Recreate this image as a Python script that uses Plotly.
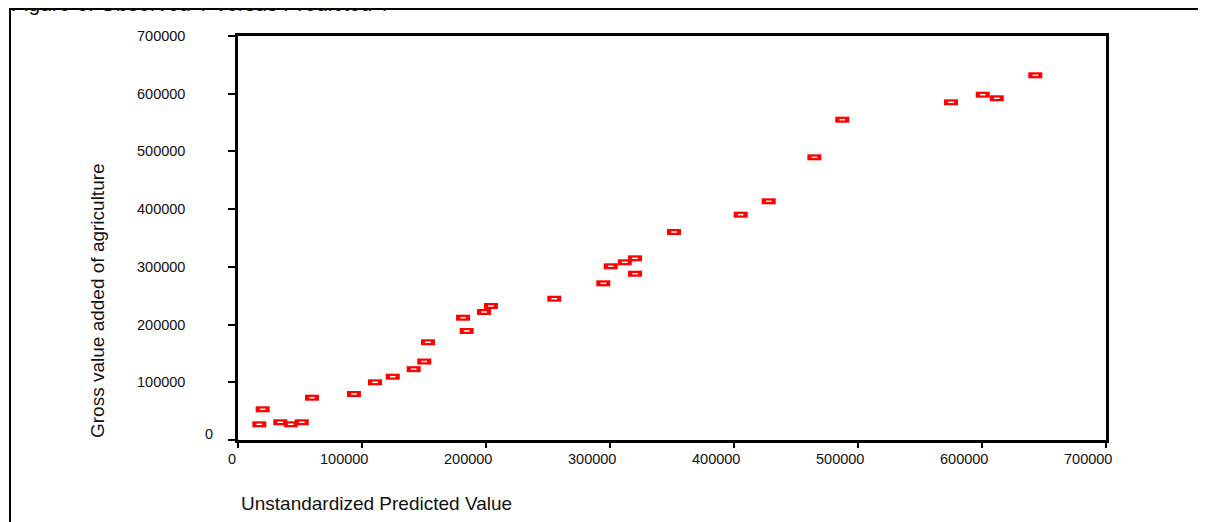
import plotly.graph_objects as go

# Data
predicted = [17200, 19900, 34100, 42500, 51400, 59700, 93500, 110500, 124800, 141700,
             150200, 153200, 181500, 184400, 198400, 204000, 255100, 294600, 300600, 311900,
             320200, 320200, 351600, 405400, 428000, 464800, 487300, 575000, 600600, 611900,
             643000]
observed = [27200, 53200, 30700, 27200, 30700, 73300, 79700, 100000, 109700, 122700,
            136000, 169300, 211900, 188900, 221800, 232200, 244800, 271500, 301000, 307900,
            314800, 288100, 360400, 390400, 413600, 489800, 555000, 585100, 598300, 592100,
            631900]

x_tick_vals = [0, 100000, 200000, 300000, 400000, 500000, 600000, 700000]
x_tick_text = ["0", "100000", "200000", "300000", "400000", "500000", "600000", "700000"]
y_tick_vals = [0, 100000, 200000, 300000, 400000, 500000, 600000, 700000]
y_tick_text = ["0", "100000", "200000", "300000", "400000", "500000", "600000", "700000"]

title_text = "Figure 6: Observed Y versus Predicted Y"
x_title = "Unstandardized Predicted Value"
y_title = "Gross value added of agriculture"

FONT = "Liberation Sans, Arial, sans-serif"
OFF = 8                      # page offset of the figure (body margin)
PAGE_W, PAGE_H = 1206, 522
W, H = PAGE_W - OFF, PAGE_H - OFF
# plot area in page pixels: x 238..1106, y 36..440
L, R, T, B = 238 - OFF, PAGE_W - 1106, 36 - OFF, PAGE_H - 440
pw, ph = W - L - R, H - T - B

def px_x(p):
    """page x pixel -> paper x"""
    return (p - OFF - L) / pw

def px_y(p):
    """page y pixel -> paper y"""
    return (H - B - (p - OFF)) / ph

fig = go.Figure()
fig.add_trace(go.Scatter(
    x=predicted, y=observed, mode="markers", hoverinfo="skip", showlegend=False,
    marker=dict(symbol="line-ew", size=10, color="#ff0000",
                line=dict(color="#ff0000", width=6)),
))
fig.add_trace(go.Scatter(
    x=predicted, y=observed, mode="markers", hoverinfo="skip", showlegend=False,
    marker=dict(symbol="line-ew", size=4, color="#ffffff",
                line=dict(color="#ffffff", width=1.5)),
))

annotations = []
# y tick labels
for v, t in zip(y_tick_vals, y_tick_text):
    if v == 0:
        xs, ys = -23, 6
    else:
        xs, ys = -51, 0
    annotations.append(dict(x=0, xref="paper", y=v, yref="y", text=t, showarrow=False,
                            xanchor="right", yanchor="middle", xshift=xs, yshift=ys,
                            font=dict(family=FONT, size=14.5, color="#111111")))
# x tick labels
for v, t in zip(x_tick_vals, x_tick_text):
    xs = -6 if v == 0 else -18
    annotations.append(dict(x=v, xref="x", y=0, yref="paper", text=t, showarrow=False,
                            xanchor="center", yanchor="middle", xshift=xs, yshift=-19,
                            font=dict(family=FONT, size=14.5, color="#111111")))
# axis titles
annotations.append(dict(x=px_x(239), xref="paper", y=px_y(504), yref="paper", text=x_title,
                        showarrow=False, xanchor="left", yanchor="middle",
                        font=dict(family=FONT, size=19, color="#111111")))
annotations.append(dict(x=px_x(97), xref="paper", y=px_y(301), yref="paper", text=y_title,
                        showarrow=False, textangle=-90, xanchor="center", yanchor="middle",
                        font=dict(family=FONT, size=19, color="#111111")))
# cropped figure caption at the top edge
annotations.append(dict(x=px_x(9), xref="paper", y=px_y(17), yref="paper", text=title_text,
                        showarrow=False, xanchor="left", yanchor="bottom",
                        font=dict(family=FONT, size=21, color="#111111")))

axis_common = dict(range=[0, 700000], showgrid=False, zeroline=False, showline=True,
                   linecolor="#000000", linewidth=2.5, mirror=True, ticks="outside",
                   tickcolor="#000000", tickwidth=2, showticklabels=False)

fig.update_layout(
    width=W, height=H,
    margin=dict(l=L, r=R, t=T, b=B),
    paper_bgcolor="white", plot_bgcolor="white",
    xaxis=dict(**axis_common, tickvals=x_tick_vals, ticklen=5),
    yaxis=dict(**axis_common, tickvals=y_tick_vals, ticklen=7),
    annotations=annotations,
    shapes=[dict(type="rect", xref="paper", yref="paper",
                 x0=px_x(10), x1=px_x(1230), y0=px_y(540), y1=px_y(9),
                 line=dict(color="#000000", width=2), fillcolor="rgba(0,0,0,0)", layer="above")],
    font=dict(family=FONT, color="#111111"),
)

fig.write_html("out.html")
